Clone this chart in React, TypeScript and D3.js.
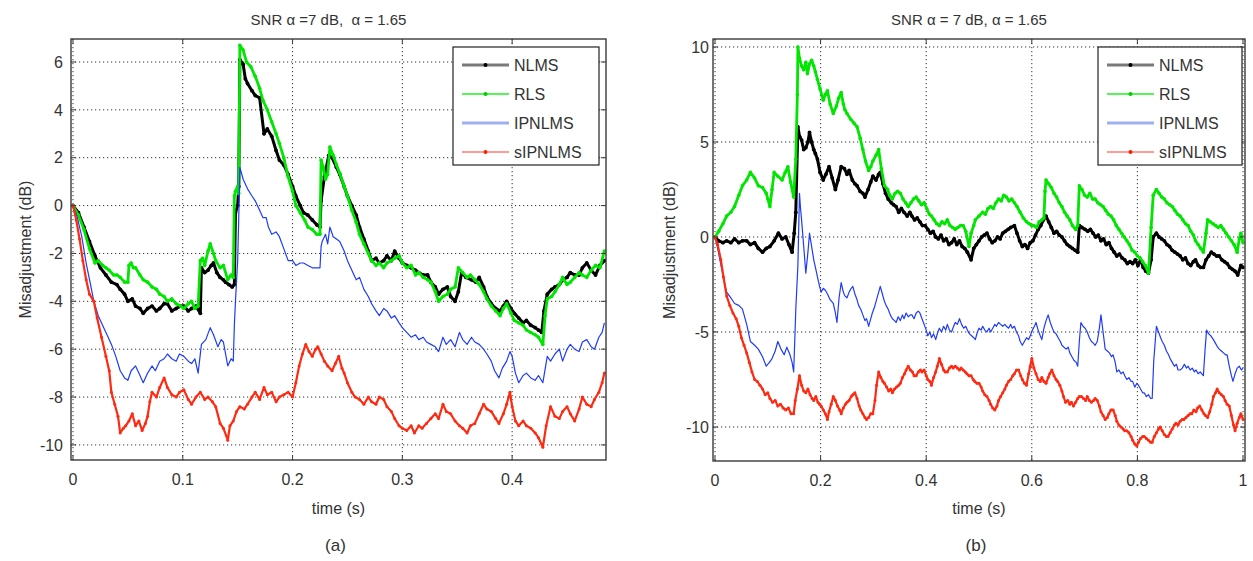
import React from 'react';
import * as d3 from 'd3';

type Pt = [number, number];

const seriesNames = ['NLMS', 'RLS', 'IPNLMS', 'sIPNLMS'];

// panel (a): time (s), misadjustment (dB)
const nlmsA: Pt[] = [[0,0],[0.005,-0.3],[0.01,-0.9],[0.015,-1.5],[0.02,-2.1],[0.025,-2.6],[0.03,-2.9],[0.035,-3.2],[0.04,-3.3],[0.043,-3.5],[0.047,-3.7],[0.05,-4.0],[0.054,-3.9],[0.057,-4.2],[0.061,-4.3],[0.064,-4.5],[0.068,-4.3],[0.072,-4.2],[0.076,-4.4],[0.079,-4.3],[0.083,-4.1],[0.086,-4.1],[0.09,-4.4],[0.094,-4.3],[0.098,-4.2],[0.101,-4.2],[0.105,-4.4],[0.108,-4.3],[0.112,-4.2],[0.116,-4.5],[0.117,-2.6],[0.12,-2.8],[0.123,-2.7],[0.126,-2.5],[0.128,-2.4],[0.131,-2.8],[0.134,-3.0],[0.137,-3.1],[0.139,-3.2],[0.142,-3.3],[0.145,-3.4],[0.147,-3.3],[0.148,-0.3],[0.15,0],[0.151,0.8],[0.152,6.1],[0.155,5.9],[0.157,5.3],[0.159,5.1],[0.163,4.8],[0.166,4.6],[0.17,4.5],[0.174,3.0],[0.177,3.2],[0.181,2.9],[0.185,2.3],[0.188,1.9],[0.192,1.7],[0.196,1.3],[0.2,0.8],[0.203,0.4],[0.207,0],[0.21,-0.3],[0.214,-0.4],[0.218,-0.6],[0.222,-0.8],[0.225,-0.9],[0.226,0.2],[0.229,1.2],[0.233,2.1],[0.236,2.0],[0.24,1.6],[0.243,1.3],[0.247,0.8],[0.25,0.4],[0.254,0],[0.258,-0.4],[0.261,-0.9],[0.265,-1.4],[0.269,-1.9],[0.272,-2.3],[0.276,-2.2],[0.279,-2.4],[0.283,-2.3],[0.286,-2.1],[0.29,-2.3],[0.293,-1.9],[0.297,-2.2],[0.3,-2.4],[0.304,-2.5],[0.308,-2.6],[0.312,-2.7],[0.315,-2.8],[0.319,-2.9],[0.323,-2.9],[0.326,-3.2],[0.33,-3.4],[0.333,-3.7],[0.337,-3.5],[0.341,-3.4],[0.344,-3.8],[0.348,-4.0],[0.351,-3.6],[0.354,-2.8],[0.358,-3.0],[0.363,-3.1],[0.367,-3.2],[0.37,-3.0],[0.374,-3.4],[0.377,-3.8],[0.381,-4.1],[0.385,-4.3],[0.389,-4.4],[0.392,-4.2],[0.395,-4.0],[0.399,-4.3],[0.402,-4.5],[0.406,-4.7],[0.41,-4.9],[0.413,-4.8],[0.417,-5.0],[0.421,-5.1],[0.424,-5.2],[0.427,-5.3],[0.429,-4.4],[0.432,-3.7],[0.436,-3.5],[0.439,-3.4],[0.443,-3.3],[0.446,-3.1],[0.45,-3.0],[0.453,-2.8],[0.457,-2.9],[0.461,-2.9],[0.464,-2.6],[0.468,-2.4],[0.472,-2.7],[0.476,-2.9],[0.48,-2.5],[0.484,-2.3]];
const rlsA: Pt[] = [[0,0],[0.005,-0.4],[0.01,-1.0],[0.015,-1.8],[0.02,-2.4],[0.023,-2.3],[0.027,-2.5],[0.03,-2.6],[0.033,-2.7],[0.037,-2.9],[0.04,-2.9],[0.043,-3.0],[0.047,-3.2],[0.05,-3.2],[0.051,-2.5],[0.053,-2.4],[0.055,-2.6],[0.057,-2.6],[0.061,-2.9],[0.064,-3.1],[0.068,-3.2],[0.072,-3.4],[0.076,-3.5],[0.079,-3.7],[0.083,-3.8],[0.086,-4.0],[0.09,-3.9],[0.094,-4.1],[0.098,-4.2],[0.101,-4.3],[0.105,-4.1],[0.108,-4.0],[0.111,-4.3],[0.114,-4.2],[0.116,-2.3],[0.118,-2.2],[0.12,-2.5],[0.123,-1.9],[0.125,-1.6],[0.128,-2.0],[0.13,-2.3],[0.134,-2.6],[0.137,-2.5],[0.141,-3.1],[0.144,-2.9],[0.146,-3.0],[0.147,0.4],[0.148,0.6],[0.15,0.8],[0.151,0.5],[0.152,6.7],[0.155,6.5],[0.158,6.0],[0.162,5.8],[0.166,5.4],[0.17,4.9],[0.173,4.4],[0.177,4.0],[0.181,3.5],[0.185,3.0],[0.188,2.6],[0.192,2.0],[0.196,1.2],[0.2,0.6],[0.203,0],[0.207,-0.3],[0.211,-0.6],[0.214,-0.9],[0.218,-1.0],[0.222,-1.2],[0.225,-1.2],[0.226,1.9],[0.228,1.6],[0.23,1.1],[0.232,1.3],[0.234,2.45],[0.237,2.1],[0.24,1.7],[0.243,1.35],[0.247,0.8],[0.25,0.4],[0.254,-0.2],[0.258,-0.7],[0.261,-1.2],[0.265,-1.6],[0.269,-2.0],[0.272,-2.3],[0.276,-2.5],[0.279,-2.4],[0.283,-2.6],[0.286,-2.4],[0.29,-2.3],[0.293,-2.2],[0.297,-2.1],[0.3,-2.4],[0.304,-2.6],[0.308,-2.5],[0.312,-2.9],[0.315,-2.8],[0.319,-3.0],[0.323,-3.1],[0.326,-3.2],[0.33,-3.6],[0.333,-4.0],[0.337,-3.8],[0.341,-3.7],[0.344,-3.5],[0.348,-3.4],[0.351,-2.6],[0.355,-2.8],[0.359,-3.0],[0.362,-2.9],[0.366,-3.1],[0.37,-3.3],[0.374,-3.6],[0.377,-3.9],[0.381,-4.2],[0.385,-4.4],[0.389,-4.6],[0.392,-4.3],[0.395,-4.1],[0.399,-4.5],[0.402,-4.8],[0.406,-4.9],[0.41,-5.0],[0.413,-5.2],[0.417,-5.3],[0.421,-5.4],[0.424,-5.5],[0.428,-5.8],[0.43,-4.6],[0.432,-3.9],[0.436,-3.8],[0.439,-3.6],[0.443,-3.3],[0.446,-3.0],[0.45,-3.3],[0.453,-3.2],[0.457,-3.0],[0.461,-2.8],[0.464,-2.9],[0.468,-3.0],[0.472,-2.7],[0.476,-2.5],[0.48,-2.6],[0.484,-1.9]];
const ipnlmsA: Pt[] = [[0,0],[0.004,-0.5],[0.008,-1.3],[0.012,-2.4],[0.016,-3.3],[0.019,-4.0],[0.023,-4.6],[0.028,-5.1],[0.031,-5.4],[0.035,-5.8],[0.039,-6.3],[0.043,-6.9],[0.047,-7.2],[0.05,-7.3],[0.053,-6.9],[0.057,-6.7],[0.06,-7.0],[0.064,-7.4],[0.068,-7.0],[0.072,-6.7],[0.075,-6.9],[0.079,-6.5],[0.083,-6.4],[0.086,-6.2],[0.09,-6.4],[0.094,-6.5],[0.097,-6.2],[0.101,-6.3],[0.105,-6.5],[0.108,-6.6],[0.111,-6.4],[0.114,-7.0],[0.117,-5.8],[0.121,-5.6],[0.125,-5.1],[0.128,-5.4],[0.132,-5.9],[0.135,-5.6],[0.137,-5.7],[0.141,-6.7],[0.144,-6.4],[0.146,-6.5],[0.147,-5.0],[0.148,-4.0],[0.15,-2.3],[0.151,-0.5],[0.152,1.6],[0.155,1.1],[0.159,0.7],[0.163,0.4],[0.166,0.2],[0.17,-0.2],[0.173,-0.5],[0.176,-0.5],[0.178,-0.9],[0.181,-1.2],[0.185,-1.1],[0.188,-1.3],[0.192,-1.8],[0.196,-2.3],[0.2,-2.3],[0.203,-2.5],[0.207,-2.4],[0.21,-2.4],[0.214,-2.5],[0.218,-2.6],[0.221,-2.6],[0.225,-2.6],[0.226,-1.7],[0.227,-1.5],[0.23,-1.2],[0.232,-1.6],[0.234,-0.9],[0.237,-1.3],[0.24,-1.4],[0.243,-1.5],[0.247,-1.9],[0.25,-2.3],[0.254,-2.7],[0.258,-3.1],[0.261,-3.0],[0.265,-3.5],[0.269,-3.8],[0.272,-4.1],[0.276,-4.4],[0.279,-4.6],[0.283,-4.3],[0.286,-4.4],[0.29,-4.7],[0.293,-4.6],[0.297,-4.9],[0.3,-5.1],[0.304,-5.3],[0.308,-5.5],[0.312,-5.4],[0.315,-5.6],[0.319,-5.5],[0.322,-5.7],[0.326,-5.8],[0.33,-5.9],[0.333,-6.1],[0.337,-5.5],[0.34,-5.8],[0.344,-5.6],[0.348,-5.9],[0.352,-5.3],[0.355,-5.6],[0.359,-5.8],[0.363,-5.5],[0.366,-5.7],[0.37,-5.8],[0.374,-6.0],[0.377,-6.2],[0.381,-6.5],[0.384,-6.9],[0.388,-7.2],[0.391,-6.8],[0.395,-6.5],[0.398,-6.1],[0.4,-6.3],[0.403,-7.0],[0.406,-7.4],[0.41,-7.1],[0.413,-7.0],[0.417,-7.2],[0.421,-7.3],[0.424,-7.1],[0.428,-7.4],[0.432,-6.3],[0.435,-6.5],[0.439,-6.2],[0.443,-6.0],[0.446,-6.5],[0.45,-6.0],[0.453,-5.8],[0.457,-6.0],[0.461,-6.1],[0.464,-5.7],[0.468,-5.6],[0.472,-5.9],[0.475,-6.0],[0.479,-5.5],[0.482,-5.3],[0.484,-4.9]];
const sipnlmsA: Pt[] = [[0,0],[0.003,-0.6],[0.006,-1.4],[0.009,-2.3],[0.012,-3.1],[0.015,-3.7],[0.019,-4.0],[0.022,-4.7],[0.026,-5.5],[0.03,-6.3],[0.033,-6.9],[0.035,-7.8],[0.038,-8.3],[0.041,-8.8],[0.043,-9.5],[0.046,-9.3],[0.048,-9.2],[0.051,-9.0],[0.054,-8.7],[0.057,-9.2],[0.06,-9.0],[0.063,-9.4],[0.066,-9.1],[0.068,-8.8],[0.07,-8.2],[0.072,-7.8],[0.076,-8.0],[0.079,-7.6],[0.083,-7.2],[0.086,-7.6],[0.09,-7.9],[0.094,-8.0],[0.097,-7.8],[0.101,-7.7],[0.105,-8.1],[0.108,-8.3],[0.112,-8.0],[0.116,-7.8],[0.12,-8.1],[0.123,-8.0],[0.127,-8.2],[0.13,-8.4],[0.134,-9.1],[0.137,-9.3],[0.141,-9.8],[0.143,-9.2],[0.146,-9.0],[0.149,-8.6],[0.152,-8.4],[0.156,-8.5],[0.159,-8.3],[0.163,-8.0],[0.166,-7.8],[0.17,-8.1],[0.174,-7.6],[0.177,-7.9],[0.181,-7.8],[0.185,-8.2],[0.188,-8.0],[0.192,-7.9],[0.196,-7.8],[0.2,-8.0],[0.203,-7.4],[0.206,-6.7],[0.209,-6.2],[0.212,-5.8],[0.215,-6.1],[0.218,-6.3],[0.221,-6.0],[0.223,-5.9],[0.226,-6.2],[0.229,-6.5],[0.232,-6.7],[0.236,-6.9],[0.239,-6.6],[0.242,-6.3],[0.245,-6.8],[0.247,-7.0],[0.25,-7.4],[0.254,-7.8],[0.257,-8.0],[0.261,-8.1],[0.265,-8.3],[0.269,-8.0],[0.272,-8.2],[0.276,-8.3],[0.279,-8.0],[0.283,-8.1],[0.286,-8.4],[0.29,-8.6],[0.293,-8.9],[0.297,-9.2],[0.3,-9.3],[0.304,-9.4],[0.308,-9.2],[0.311,-9.5],[0.315,-9.2],[0.318,-9.3],[0.322,-9.1],[0.326,-8.9],[0.33,-8.7],[0.333,-8.9],[0.337,-8.3],[0.34,-8.6],[0.344,-8.7],[0.348,-9.0],[0.352,-9.2],[0.355,-9.3],[0.359,-9.5],[0.362,-9.2],[0.366,-9.1],[0.37,-8.7],[0.374,-8.3],[0.377,-8.5],[0.381,-8.6],[0.385,-8.9],[0.388,-9.1],[0.392,-8.7],[0.395,-8.3],[0.398,-7.8],[0.4,-8.4],[0.403,-9.0],[0.406,-9.2],[0.41,-9.0],[0.413,-9.2],[0.417,-9.3],[0.421,-9.5],[0.424,-9.7],[0.428,-10.1],[0.431,-9.2],[0.435,-8.4],[0.439,-8.8],[0.443,-8.9],[0.446,-8.6],[0.45,-8.4],[0.453,-8.7],[0.457,-9.0],[0.461,-8.5],[0.464,-8.0],[0.468,-8.3],[0.472,-8.4],[0.475,-8.1],[0.479,-7.8],[0.482,-7.4],[0.484,-7.0]];

// panel (b)
const nlmsB: Pt[] = [[0,0],[0.007,-0.2],[0.015,-0.3],[0.022,-0.2],[0.03,-0.3],[0.037,-0.1],[0.045,-0.3],[0.052,-0.2],[0.06,-0.2],[0.067,-0.4],[0.075,-0.3],[0.082,-0.6],[0.09,-0.8],[0.097,-0.6],[0.104,-0.5],[0.112,-0.2],[0.12,0.2],[0.127,-0.1],[0.134,0.0],[0.14,-0.4],[0.146,-0.8],[0.15,0.2],[0.153,1.3],[0.157,5.8],[0.16,5.3],[0.164,5.1],[0.168,4.6],[0.172,4.7],[0.176,5.0],[0.179,5.5],[0.183,5.0],[0.187,4.6],[0.19,4.4],[0.194,4.1],[0.199,3.4],[0.205,3.0],[0.21,3.3],[0.216,3.7],[0.222,3.1],[0.228,2.5],[0.233,3.0],[0.239,3.7],[0.245,3.6],[0.25,3.3],[0.254,3.5],[0.26,3.0],[0.265,2.8],[0.269,2.7],[0.275,2.4],[0.28,2.3],[0.284,2.1],[0.29,2.5],[0.295,2.9],[0.299,3.2],[0.305,3.0],[0.31,3.3],[0.313,3.4],[0.318,2.8],[0.323,2.3],[0.328,2.0],[0.334,1.8],[0.338,1.7],[0.343,1.6],[0.348,1.3],[0.353,1.5],[0.358,1.3],[0.364,1.1],[0.369,1.3],[0.373,1.1],[0.378,0.9],[0.383,1.0],[0.388,0.8],[0.393,0.6],[0.398,0.6],[0.403,0.4],[0.408,0.2],[0.413,0.3],[0.418,0.0],[0.423,-0.1],[0.428,0.1],[0.433,-0.2],[0.438,-0.1],[0.443,-0.4],[0.448,-0.3],[0.453,-0.1],[0.458,-0.4],[0.463,-0.2],[0.468,-0.5],[0.473,-0.6],[0.478,-0.8],[0.485,-1.2],[0.49,-0.6],[0.495,-0.4],[0.5,-0.2],[0.505,0.0],[0.51,0.1],[0.515,0.2],[0.52,-0.1],[0.525,-0.3],[0.53,-0.2],[0.535,0.0],[0.54,-0.1],[0.545,0.2],[0.55,0.3],[0.555,0.4],[0.56,0.5],[0.567,0.6],[0.572,0.2],[0.577,-0.2],[0.582,-0.5],[0.587,-0.4],[0.592,-0.6],[0.597,-0.3],[0.602,-0.2],[0.607,0.1],[0.612,0.4],[0.617,0.6],[0.622,0.9],[0.627,1.1],[0.632,0.8],[0.637,0.5],[0.642,0.2],[0.647,0.3],[0.652,0.1],[0.657,0.0],[0.662,-0.2],[0.667,-0.4],[0.672,-0.5],[0.677,-0.6],[0.682,-0.7],[0.687,-0.8],[0.69,0.6],[0.695,0.5],[0.701,0.4],[0.706,0.3],[0.711,0.4],[0.716,0.2],[0.721,0.0],[0.726,0.1],[0.731,-0.2],[0.736,-0.1],[0.741,-0.4],[0.746,-0.3],[0.751,-0.6],[0.756,-0.8],[0.761,-1.0],[0.766,-0.9],[0.771,-1.1],[0.776,-1.2],[0.781,-1.4],[0.786,-1.3],[0.791,-1.4],[0.796,-1.2],[0.801,-1.5],[0.806,-1.2],[0.811,-1.6],[0.816,-1.8],[0.821,-1.9],[0.826,-1.2],[0.83,0.0],[0.836,0.2],[0.841,0.0],[0.846,-0.1],[0.851,-0.2],[0.856,-0.4],[0.861,-0.5],[0.866,-0.7],[0.871,-0.8],[0.876,-0.9],[0.881,-1.0],[0.886,-1.2],[0.891,-1.1],[0.896,-1.4],[0.901,-1.5],[0.906,-1.3],[0.91,-1.2],[0.915,-1.5],[0.92,-1.6],[0.925,-1.6],[0.93,-1.2],[0.935,-1.0],[0.94,-0.8],[0.945,-0.9],[0.95,-1.0],[0.955,-1.0],[0.96,-1.2],[0.965,-1.3],[0.97,-1.4],[0.975,-1.6],[0.98,-1.7],[0.985,-1.8],[0.99,-2.0],[0.996,-1.5],[1.0,-1.6]];
const rlsB: Pt[] = [[0,0],[0.007,0.3],[0.015,0.7],[0.022,1.1],[0.03,1.3],[0.037,1.6],[0.045,2.2],[0.052,2.7],[0.06,3.0],[0.067,3.4],[0.075,3.1],[0.082,2.7],[0.09,2.6],[0.097,2.3],[0.1,2.0],[0.104,1.6],[0.108,2.5],[0.112,3.4],[0.119,3.2],[0.127,3.0],[0.133,3.4],[0.138,3.7],[0.143,2.9],[0.149,2.1],[0.153,4.1],[0.156,7.5],[0.157,10.0],[0.16,9.4],[0.164,9.0],[0.168,8.8],[0.172,9.2],[0.175,8.6],[0.179,9.1],[0.183,9.3],[0.187,9.0],[0.19,8.7],[0.194,8.3],[0.199,7.8],[0.205,7.2],[0.209,7.5],[0.213,7.7],[0.218,7.0],[0.224,6.5],[0.23,6.9],[0.234,7.3],[0.239,7.6],[0.243,7.0],[0.246,6.7],[0.25,6.5],[0.257,6.2],[0.263,6.0],[0.269,5.8],[0.275,5.2],[0.28,4.6],[0.285,4.0],[0.291,3.5],[0.295,3.7],[0.299,4.0],[0.305,4.3],[0.31,4.6],[0.315,3.6],[0.321,2.7],[0.327,2.5],[0.331,2.2],[0.336,2.0],[0.341,2.3],[0.346,2.4],[0.351,2.3],[0.356,2.0],[0.361,1.8],[0.366,1.6],[0.371,1.8],[0.376,2.0],[0.381,2.1],[0.386,1.9],[0.391,1.7],[0.396,1.8],[0.401,1.5],[0.406,1.2],[0.41,1.1],[0.415,0.9],[0.42,0.7],[0.425,0.6],[0.43,0.8],[0.435,0.7],[0.44,0.9],[0.445,0.6],[0.45,0.5],[0.455,0.4],[0.46,0.5],[0.465,0.6],[0.47,0.6],[0.475,0.3],[0.481,-0.5],[0.485,0.2],[0.49,0.6],[0.493,0.9],[0.5,1.1],[0.507,1.3],[0.512,1.2],[0.517,1.5],[0.522,1.6],[0.527,1.5],[0.532,1.8],[0.537,2.0],[0.542,1.9],[0.547,2.2],[0.552,2.1],[0.557,1.9],[0.562,2.0],[0.567,1.8],[0.572,1.6],[0.578,1.3],[0.584,1.0],[0.59,0.8],[0.595,0.7],[0.6,0.6],[0.604,0.6],[0.609,0.5],[0.614,0.8],[0.619,0.9],[0.623,1.0],[0.625,2.4],[0.627,3.0],[0.632,2.8],[0.637,2.6],[0.642,2.3],[0.647,2.1],[0.652,1.8],[0.657,1.6],[0.662,1.3],[0.667,1.1],[0.672,0.9],[0.677,0.6],[0.683,0.4],[0.687,0.6],[0.69,2.7],[0.695,2.5],[0.7,2.2],[0.705,2.1],[0.71,2.3],[0.715,2.0],[0.72,2.0],[0.725,1.8],[0.73,1.7],[0.735,1.6],[0.74,1.4],[0.745,1.2],[0.75,1.1],[0.755,0.9],[0.76,0.6],[0.765,0.4],[0.77,0.2],[0.775,0.0],[0.78,-0.2],[0.785,-0.4],[0.79,-0.7],[0.795,-0.8],[0.8,-1.0],[0.805,-1.1],[0.81,-1.3],[0.815,-1.5],[0.821,-1.9],[0.826,0.5],[0.83,2.2],[0.836,2.5],[0.841,2.3],[0.846,2.1],[0.851,2.0],[0.856,1.8],[0.861,1.7],[0.866,1.6],[0.871,1.4],[0.876,1.2],[0.881,1.1],[0.886,0.9],[0.891,0.7],[0.896,0.6],[0.901,0.3],[0.906,0.1],[0.91,-0.2],[0.915,-0.4],[0.92,-0.6],[0.925,-0.8],[0.93,0.2],[0.933,0.9],[0.938,0.8],[0.943,0.7],[0.948,0.6],[0.953,0.5],[0.958,0.6],[0.963,0.4],[0.968,0.2],[0.973,0.0],[0.978,-0.2],[0.983,-0.4],[0.989,-0.8],[0.993,-0.1],[0.996,0.2],[1.0,-0.3]];
const ipnlmsB: Pt[] = [[0,0],[0.005,-0.6],[0.01,-1.3],[0.015,-2.0],[0.022,-2.9],[0.03,-3.2],[0.037,-3.5],[0.045,-3.6],[0.052,-3.8],[0.06,-4.6],[0.067,-5.5],[0.075,-5.7],[0.082,-5.9],[0.09,-6.3],[0.097,-6.8],[0.103,-6.6],[0.108,-6.4],[0.114,-6.0],[0.119,-5.5],[0.125,-5.9],[0.131,-6.2],[0.136,-5.8],[0.142,-6.2],[0.146,-6.6],[0.149,-7.1],[0.151,-5.5],[0.153,-3.8],[0.157,-1.5],[0.16,2.3],[0.162,1.5],[0.164,0.9],[0.168,-0.5],[0.172,-1.9],[0.176,-0.8],[0.179,0.2],[0.183,-0.5],[0.187,-1.2],[0.191,-1.7],[0.194,-2.1],[0.198,-2.6],[0.201,-2.9],[0.205,-2.7],[0.209,-2.8],[0.213,-3.0],[0.218,-3.3],[0.224,-3.5],[0.228,-4.0],[0.231,-4.5],[0.235,-3.2],[0.239,-2.4],[0.243,-2.9],[0.246,-3.1],[0.25,-3.2],[0.254,-2.9],[0.258,-2.7],[0.261,-2.6],[0.265,-3.0],[0.269,-3.3],[0.272,-3.6],[0.276,-3.8],[0.28,-4.1],[0.284,-4.4],[0.287,-4.3],[0.291,-4.7],[0.295,-4.3],[0.298,-4.0],[0.302,-3.7],[0.306,-3.3],[0.31,-2.9],[0.313,-2.6],[0.317,-3.0],[0.321,-3.4],[0.324,-3.6],[0.328,-3.8],[0.332,-4.1],[0.336,-4.3],[0.34,-4.4],[0.343,-4.5],[0.347,-4.2],[0.351,-4.4],[0.355,-4.1],[0.358,-4.3],[0.362,-4.0],[0.366,-4.2],[0.37,-4.1],[0.373,-4.1],[0.377,-4.3],[0.381,-4.0],[0.385,-3.9],[0.388,-4.0],[0.392,-4.3],[0.396,-4.6],[0.4,-4.9],[0.403,-5.2],[0.407,-5.0],[0.41,-5.3],[0.414,-5.1],[0.418,-5.4],[0.422,-5.0],[0.425,-4.8],[0.429,-5.0],[0.433,-4.7],[0.437,-4.9],[0.44,-4.6],[0.444,-4.9],[0.448,-5.0],[0.452,-4.7],[0.455,-4.5],[0.459,-4.6],[0.463,-4.3],[0.467,-4.6],[0.471,-4.8],[0.475,-4.7],[0.478,-4.9],[0.482,-5.1],[0.486,-5.2],[0.49,-5.3],[0.493,-5.4],[0.497,-5.0],[0.5,-4.8],[0.504,-4.9],[0.507,-4.7],[0.511,-4.9],[0.515,-5.0],[0.519,-4.8],[0.522,-5.0],[0.526,-4.8],[0.53,-4.6],[0.533,-4.7],[0.537,-4.5],[0.541,-4.6],[0.545,-4.7],[0.549,-4.6],[0.552,-4.7],[0.556,-4.8],[0.56,-4.6],[0.563,-4.8],[0.567,-4.7],[0.571,-5.0],[0.575,-5.2],[0.578,-5.5],[0.582,-5.7],[0.586,-5.5],[0.59,-5.3],[0.594,-5.4],[0.597,-5.2],[0.601,-4.9],[0.605,-4.7],[0.608,-4.5],[0.612,-4.9],[0.616,-5.2],[0.619,-5.4],[0.623,-4.8],[0.627,-4.4],[0.631,-4.1],[0.635,-4.5],[0.639,-4.8],[0.642,-5.0],[0.646,-5.1],[0.65,-5.3],[0.654,-5.5],[0.657,-5.7],[0.661,-5.8],[0.665,-5.9],[0.669,-5.8],[0.672,-6.1],[0.676,-6.3],[0.68,-6.5],[0.684,-6.6],[0.687,-6.8],[0.69,-5.5],[0.693,-4.5],[0.697,-4.7],[0.701,-4.8],[0.705,-5.0],[0.709,-5.3],[0.713,-5.5],[0.717,-5.6],[0.72,-5.7],[0.724,-5.5],[0.728,-4.8],[0.731,-4.1],[0.735,-5.0],[0.739,-5.9],[0.743,-6.0],[0.747,-6.1],[0.751,-6.3],[0.754,-6.2],[0.758,-6.6],[0.761,-7.1],[0.765,-7.0],[0.769,-7.2],[0.773,-7.1],[0.776,-7.3],[0.78,-7.5],[0.784,-7.4],[0.788,-7.6],[0.791,-7.6],[0.795,-7.9],[0.799,-7.7],[0.802,-7.8],[0.806,-8.0],[0.81,-8.2],[0.813,-8.2],[0.817,-8.4],[0.821,-8.3],[0.825,-8.5],[0.828,-8.5],[0.831,-6.5],[0.836,-4.7],[0.84,-5.0],[0.844,-5.3],[0.847,-5.5],[0.851,-5.7],[0.855,-6.0],[0.859,-6.2],[0.862,-6.4],[0.866,-6.6],[0.87,-6.8],[0.874,-6.7],[0.877,-7.0],[0.881,-7.0],[0.885,-6.9],[0.889,-6.7],[0.893,-6.9],[0.896,-6.8],[0.9,-7.0],[0.904,-6.9],[0.908,-7.1],[0.911,-7.0],[0.915,-7.2],[0.919,-7.1],[0.922,-7.2],[0.925,-7.3],[0.928,-6.0],[0.931,-4.9],[0.935,-5.1],[0.939,-5.2],[0.944,-5.4],[0.948,-5.6],[0.952,-5.8],[0.955,-5.9],[0.959,-6.0],[0.963,-6.1],[0.967,-6.2],[0.97,-6.2],[0.974,-6.8],[0.978,-7.3],[0.981,-7.6],[0.985,-7.2],[0.989,-6.9],[0.993,-6.8],[0.997,-7.0],[1.0,-6.9]];
const sipnlmsB: Pt[] = [[0,0],[0.005,-0.4],[0.011,-1.2],[0.016,-2.1],[0.022,-3.1],[0.028,-3.6],[0.034,-4.0],[0.04,-4.3],[0.045,-4.7],[0.05,-5.3],[0.055,-5.7],[0.06,-6.1],[0.065,-6.6],[0.07,-7.1],[0.075,-7.5],[0.08,-7.6],[0.085,-7.8],[0.09,-8.0],[0.095,-8.3],[0.1,-8.2],[0.104,-8.5],[0.109,-8.7],[0.114,-8.6],[0.119,-8.9],[0.124,-8.8],[0.129,-9.0],[0.134,-9.1],[0.139,-9.0],[0.144,-9.3],[0.149,-9.3],[0.152,-8.6],[0.156,-8.0],[0.16,-7.3],[0.164,-7.8],[0.168,-8.1],[0.172,-8.2],[0.176,-8.0],[0.18,-8.3],[0.184,-8.5],[0.187,-8.6],[0.191,-8.4],[0.195,-8.7],[0.198,-8.8],[0.201,-8.9],[0.205,-9.1],[0.209,-9.3],[0.213,-9.6],[0.216,-9.2],[0.22,-8.8],[0.224,-8.4],[0.228,-8.6],[0.232,-8.9],[0.236,-9.1],[0.239,-9.3],[0.243,-9.0],[0.247,-8.8],[0.25,-8.7],[0.254,-8.6],[0.258,-8.4],[0.261,-8.3],[0.265,-8.2],[0.269,-8.5],[0.273,-8.9],[0.276,-9.1],[0.28,-9.3],[0.284,-9.5],[0.287,-9.6],[0.291,-9.5],[0.295,-9.3],[0.299,-9.3],[0.303,-8.6],[0.306,-7.8],[0.31,-7.1],[0.314,-7.4],[0.318,-7.6],[0.321,-7.7],[0.325,-7.9],[0.329,-8.1],[0.333,-8.0],[0.336,-8.2],[0.34,-8.0],[0.344,-7.9],[0.348,-7.8],[0.351,-7.7],[0.355,-7.4],[0.359,-7.2],[0.362,-7.0],[0.366,-6.8],[0.37,-7.0],[0.374,-7.1],[0.377,-7.3],[0.381,-7.3],[0.385,-7.1],[0.389,-7.0],[0.392,-7.1],[0.396,-7.0],[0.4,-7.3],[0.403,-7.5],[0.407,-7.6],[0.41,-7.8],[0.414,-7.4],[0.418,-7.1],[0.421,-6.8],[0.425,-6.4],[0.429,-6.7],[0.433,-7.0],[0.436,-7.1],[0.44,-7.1],[0.444,-6.9],[0.448,-6.8],[0.451,-6.9],[0.455,-6.8],[0.459,-6.9],[0.463,-7.0],[0.466,-6.9],[0.47,-7.0],[0.474,-7.1],[0.477,-7.2],[0.481,-7.3],[0.485,-7.3],[0.489,-7.5],[0.492,-7.6],[0.496,-7.7],[0.5,-7.7],[0.504,-7.9],[0.507,-8.1],[0.511,-8.3],[0.515,-8.4],[0.519,-8.6],[0.522,-8.8],[0.526,-9.0],[0.53,-9.1],[0.534,-8.9],[0.537,-8.6],[0.541,-8.4],[0.545,-8.2],[0.549,-8.0],[0.552,-7.8],[0.556,-7.6],[0.56,-7.5],[0.564,-7.3],[0.567,-7.2],[0.571,-7.0],[0.575,-7.0],[0.579,-7.3],[0.582,-7.5],[0.586,-7.7],[0.59,-7.8],[0.594,-7.2],[0.597,-6.8],[0.6,-6.4],[0.604,-6.9],[0.608,-7.2],[0.612,-7.5],[0.616,-7.6],[0.619,-7.4],[0.623,-7.6],[0.627,-7.7],[0.631,-7.4],[0.634,-7.2],[0.638,-7.0],[0.642,-7.3],[0.646,-7.5],[0.649,-7.6],[0.653,-7.8],[0.657,-8.1],[0.66,-8.4],[0.664,-8.7],[0.668,-8.6],[0.672,-8.8],[0.675,-8.7],[0.679,-8.9],[0.683,-8.7],[0.687,-8.5],[0.69,-8.4],[0.694,-8.4],[0.698,-8.5],[0.702,-8.6],[0.705,-8.4],[0.709,-8.6],[0.713,-8.7],[0.717,-8.6],[0.72,-8.5],[0.724,-8.6],[0.728,-8.9],[0.731,-9.2],[0.735,-9.4],[0.739,-9.6],[0.743,-9.5],[0.746,-9.3],[0.75,-9.1],[0.754,-9.1],[0.758,-9.4],[0.761,-9.7],[0.765,-9.9],[0.769,-10.0],[0.773,-10.1],[0.776,-10.2],[0.78,-10.2],[0.784,-10.3],[0.788,-10.5],[0.791,-10.7],[0.795,-10.9],[0.799,-11.0],[0.802,-10.8],[0.806,-10.6],[0.81,-10.5],[0.813,-10.5],[0.817,-10.6],[0.821,-10.7],[0.825,-10.8],[0.828,-10.8],[0.832,-10.5],[0.836,-10.3],[0.84,-10.1],[0.843,-10.0],[0.847,-10.2],[0.851,-10.4],[0.855,-10.5],[0.858,-10.5],[0.862,-10.3],[0.866,-10.1],[0.87,-9.9],[0.873,-9.8],[0.877,-9.9],[0.881,-9.7],[0.885,-9.6],[0.888,-9.6],[0.892,-9.5],[0.896,-9.4],[0.9,-9.3],[0.903,-9.3],[0.907,-9.1],[0.911,-9.2],[0.914,-9.0],[0.918,-8.9],[0.922,-9.1],[0.926,-9.3],[0.929,-9.4],[0.933,-9.5],[0.937,-9.2],[0.941,-8.8],[0.944,-8.4],[0.948,-8.2],[0.951,-8.0],[0.955,-8.2],[0.959,-8.3],[0.963,-8.4],[0.966,-8.6],[0.97,-8.8],[0.974,-8.9],[0.978,-9.4],[0.982,-9.9],[0.985,-10.2],[0.989,-9.8],[0.993,-9.5],[0.996,-9.3],[1.0,-9.6]];

const xTicksA = [0, 0.1, 0.2, 0.3, 0.4];
const yTicksA = [-10, -8, -6, -4, -2, 0, 2, 4, 6];
const xTicksB = [0, 0.2, 0.4, 0.6, 0.8, 1];
const yTicksB = [-10, -5, 0, 5, 10];

const FONT = '"Liberation Sans", Arial, Helvetica, sans-serif';
const INK = '#333';

// line look for each series: colour, width, marker radius
const styles = [
  { color: '#000000', width: 3, r: 1.9, legendColor: '#7a7a7a', legendWidth: 3, dot: '#000' },
  { color: '#00e600', width: 2.8, r: 1.8, legendColor: '#22ee22', legendWidth: 1.5, dot: '#00cc00' },
  { color: '#1f3cf5', width: 1.2, r: 0, legendColor: '#9fb0f2', legendWidth: 3, dot: '' },
  { color: '#ff2a12', width: 2.2, r: 1.5, legendColor: '#ff3a2a', legendWidth: 1.2, dot: '#ff2000' },
];

const Panel = ({ id, left, right, top, bottom, xDomain, yDomain, xTicks, yTicks, series, title, tag, legendLeft, legendRight, yLabelX, yTickGap }: any) => {
  const x = d3.scaleLinear().domain(xDomain).range([left, right]);
  const y = d3.scaleLinear().domain(yDomain).range([bottom, top]);
  const line = d3.line<Pt>().x(d => x(d[0])).y(d => y(d[1]));
  const cx = (left + right) / 2;
  const cy = (top + bottom) / 2;
  const tl = 5;
  const legTop = 47;
  const legRow = 29;
  return (
    <g>
      <defs>
        <clipPath id={`clip-${id}`}>
          <rect x={left} y={top} width={right - left} height={bottom - top} />
        </clipPath>
      </defs>
      <rect x={left} y={top} width={right - left} height={bottom - top} fill="#fff" />
      {/* grid */}
      {xTicks.map((t: number) => (
        <line key={`gx${t}`} x1={x(t)} x2={x(t)} y1={top} y2={bottom} stroke="#333" strokeWidth={1} strokeDasharray="1.2 2.8" />
      ))}
      {yTicks.map((t: number) => (
        <line key={`gy${t}`} x1={left} x2={right} y1={y(t)} y2={y(t)} stroke="#333" strokeWidth={1} strokeDasharray="1.2 2.8" />
      ))}
      {/* series */}
      <g clipPath={`url(#clip-${id})`}>
        {series.map((s: Pt[], i: number) => (
          <g key={i}>
            <path d={line(s) || ''} fill="none" stroke={styles[i].color} strokeWidth={styles[i].width} strokeLinejoin="round" />
            {styles[i].r > 0 && s.map((d, j) => (
              <circle key={j} cx={x(d[0])} cy={y(d[1])} r={styles[i].r} fill={styles[i].color} />
            ))}
          </g>
        ))}
      </g>
      {/* box and ticks */}
      <rect x={left} y={top} width={right - left} height={bottom - top} fill="none" stroke="#3a3a3a" strokeWidth={1.4} />
      {xTicks.map((t: number) => (
        <g key={`tx${t}`}>
          <line x1={x(t)} x2={x(t)} y1={bottom} y2={bottom - tl} stroke="#3a3a3a" />
          <line x1={x(t)} x2={x(t)} y1={top} y2={top + tl} stroke="#3a3a3a" />
          <text x={x(t)} y={bottom + 25} textAnchor="middle" fontSize={16} fill={INK} fontFamily={FONT}>{String(t)}</text>
        </g>
      ))}
      {yTicks.map((t: number) => (
        <g key={`ty${t}`}>
          <line x1={left} x2={left + tl} y1={y(t)} y2={y(t)} stroke="#3a3a3a" />
          <line x1={right} x2={right - tl} y1={y(t)} y2={y(t)} stroke="#3a3a3a" />
          <text x={left - yTickGap} y={y(t)} dy="0.36em" textAnchor="end" fontSize={16} fill={INK} fontFamily={FONT}>{String(t)}</text>
        </g>
      ))}
      {/* legend */}
      <rect x={legendLeft} y={legTop} width={legendRight - legendLeft} height={118} fill="#fff" stroke="#222" strokeWidth={1.2} />
      {seriesNames.map((n, i) => {
        const ly = legTop + 18 + i * legRow;
        const lx0 = legendLeft + 9;
        const lx1 = lx0 + 47;
        return (
          <g key={n}>
            <line x1={lx0} x2={lx1} y1={ly} y2={ly} stroke={styles[i].legendColor} strokeWidth={styles[i].legendWidth} />
            {styles[i].dot && <circle cx={(lx0 + lx1) / 2} cy={ly} r={2} fill={styles[i].dot} />}
            <text x={lx1 + 5} y={ly} dy="0.36em" fontSize={16} fill={INK} fontFamily={FONT}>{n}</text>
          </g>
        );
      })}
      {/* labels */}
      <text x={cx - 10} y={25} textAnchor="middle" fontSize={15} fill={INK} fontFamily={FONT} style={{ whiteSpace: 'pre' }}>{title}</text>
      <text x={cx} y={514} textAnchor="middle" fontSize={16} fill={INK} fontFamily={FONT}>time (s)</text>
      <text x={cx - 3} y={551} textAnchor="middle" fontSize={17} fill={INK} fontFamily={FONT}>{tag}</text>
      <text transform={`translate(${yLabelX},${cy}) rotate(-90)`} textAnchor="middle" fontSize={16} fill={INK} fontFamily={FONT}>Misadjustment (dB)</text>
    </g>
  );
};

const App = () => {
  return (
    <svg width={1253} height={561} style={{ position: 'absolute', left: 0, top: 0, background: '#fff' }}>
      <rect width={1253} height={561} fill="#fff" />
      <Panel
        id="a" left={71} right={606} top={39} bottom={460}
        xDomain={[-0.0018, 0.4855]} yDomain={[-10.63, 6.96]}
        xTicks={xTicksA} yTicks={yTicksA}
        series={[nlmsA, rlsA, ipnlmsA, sipnlmsA]}
        title={'SNR α =7 dB,  α = 1.65'} tag="(a)"
        legendLeft={453} legendRight={599} yLabelX={31} yTickGap={8}
      />
      <Panel
        id="b" left={713} right={1245} top={39} bottom={461}
        xDomain={[-0.0038, 1.0038]} yDomain={[-11.79, 10.42]}
        xTicks={xTicksB} yTicks={yTicksB}
        series={[nlmsB, rlsB, ipnlmsB, sipnlmsB]}
        title={'SNR α = 7 dB, α = 1.65'} tag="(b)"
        legendLeft={1098} legendRight={1242} yLabelX={675} yTickGap={4}
      />
    </svg>
  );
};

export default App;
